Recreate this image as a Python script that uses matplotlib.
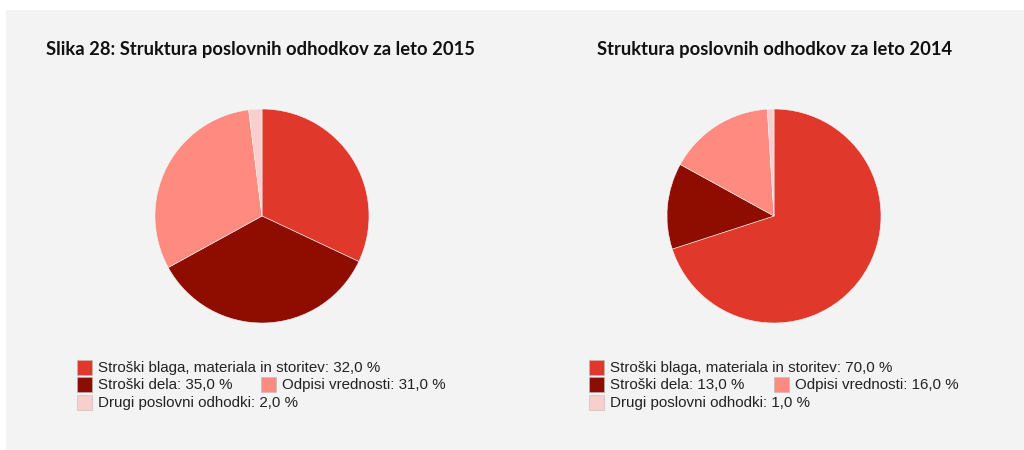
import matplotlib
matplotlib.use("Agg")
import matplotlib.pyplot as plt
from matplotlib.patches import Rectangle

# ------------------------------------------------------------
# data
# ------------------------------------------------------------
categories = [
    "Stroški blaga, materiala in storitev",
    "Stroški dela",
    "Odpisi vrednosti",
    "Drugi poslovni odhodki",
]
values_2015 = [32.0, 35.0, 31.0, 2.0]
values_2014 = [70.0, 13.0, 16.0, 1.0]
titles = ["Slika 28: Struktura poslovnih odhodkov za leto 2015",
          "Struktura poslovnih odhodkov za leto 2014"]
colors = ["#e0392b", "#8f0c00", "#ff8a7f", "#f8cfcc"]

W, H = 1024, 450
fig = plt.figure(figsize=(W / 100, H / 100), dpi=100)
fig.patch.set_facecolor("white")

# grey panel behind everything
fig.patches.append(Rectangle((6 / W, 0), 1 - 6 / W, 1 - 10 / H,
                             transform=fig.transFigure, facecolor="#f3f3f3",
                             edgecolor="none", zorder=-10))


def fmt(v):
    return f"{v:.1f}".replace(".", ",") + " %"


def px(x, y):
    # pixel coords (top-left origin) -> figure fraction
    return x / W, 1 - y / H


def draw_panel(values, title, cx, title_x, leg_x, leg_x2):
    r = 107
    cy = 216
    ax = fig.add_axes([(cx - r) / W, (H - cy - r) / H, 2 * r / W, 2 * r / H])
    ax.pie(values, colors=colors, startangle=90, counterclock=False,
           radius=1.0, wedgeprops=dict(edgecolor="#f3f3f3", linewidth=0.4))
    ax.set_xlim(-1.0, 1.0)
    ax.set_ylim(-1.0, 1.0)
    ax.axis("off")

    fig.text(*px(title_x, 50), title, fontsize=13.2, fontweight="bold",
             family="Lato", color="#111111", va="center", ha="left")

    # legend: 1 item / 2 items / 1 item
    rows = [[(0, leg_x)], [(1, leg_x), (2, leg_x2)], [(3, leg_x)]]
    ys = [367, 384, 402]
    for row, y in zip(rows, ys):
        for idx, x in row:
            fig.patches.append(Rectangle(px(x, y + 8), 15 / W, 15 / H,
                                         transform=fig.transFigure,
                                         facecolor=colors[idx],
                                         edgecolor="#bbbbbb", linewidth=0.4))
            fig.text(*px(x + 21, y + 1), f"{categories[idx]}: {fmt(values[idx])}",
                     fontsize=10.9, family="Liberation Sans", color="#222222",
                     va="center", ha="left")


draw_panel(values_2015, titles[0], 262, 46, 77, 261)
draw_panel(values_2014, titles[1], 774, 597, 589, 774)

fig.savefig("out.png", dpi=100, facecolor=fig.get_facecolor())
